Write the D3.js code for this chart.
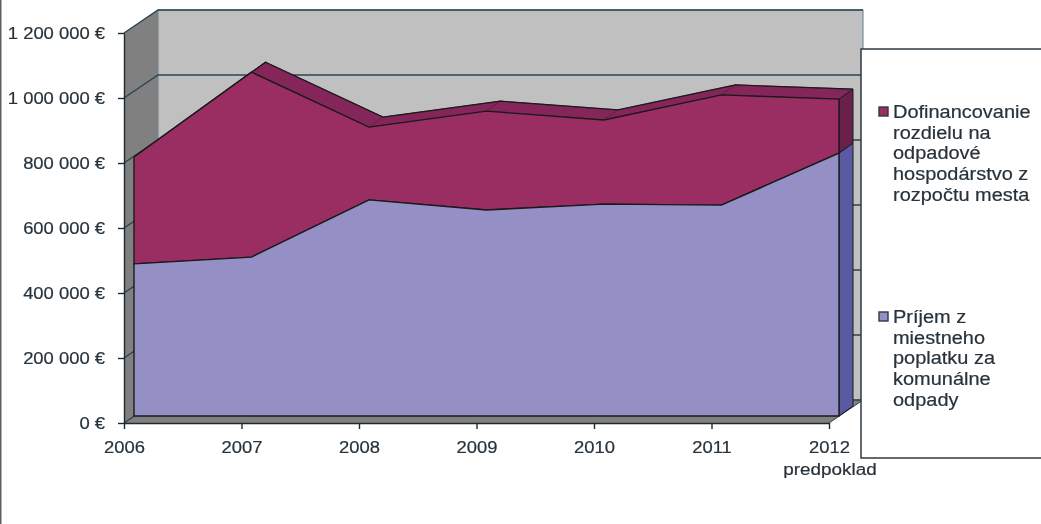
<!DOCTYPE html>
<html>
<head>
<meta charset="utf-8">
<script src="https://cdn.jsdelivr.net/npm/d3@7"></script>
<style>
    html, body { margin: 0; padding: 0; background: #fff; }
    svg { display: block; filter: blur(0.45px); }
    text { font-family: "Liberation Sans", Arial, sans-serif; fill: #27323a; stroke: #27323a; stroke-width: 0.2px; }
</style>
</head>
<body>
<div id="chart"></div>
<script>
const years = ['2006', '2007', '2008', '2009', '2010', '2011', '2012'];
const prijem = [468000, 489000, 665000, 634000, 652000, 649000, 809000];
const dofinancovanie = [329000, 569000, 224000, 304000, 259000, 339000, 166000];
const yTicks = [0, 200000, 400000, 600000, 800000, 1000000, 1200000];
const yLabels = ['0 €', '200 000 €', '400 000 €', '600 000 €', '800 000 €', '1 000 000 €', '1 200 000 €'];
const legendDofinancovanie = ['Dofinancovanie', 'rozdielu na', 'odpadové', 'hospodárstvo z', 'rozpočtu mesta'];
const legendPrijem = ['Príjem z', 'miestneho', 'poplatku za', 'komunálne', 'odpady'];

const width = 1041;
const height = 524;
const lineColor = '#2c4450';

const svg = d3.select('#chart')
    .append('svg')
    .attr('width', width)
    .attr('height', height);

const x = d3.scalePoint().domain(years).range([124, 829]);
const y = d3.scaleLinear().domain([0, 1200000]).range([423, 33]);

// 3D offsets: back wall, front and back of the area body
const wall = { x: 34, y: -23 };
const front = { x: 10, y: -7 };
const body = { x: 14, y: -10 };

const poly = pts => pts.map(p => p.join(',')).join(' ');
const x0 = x(years[0]);
const x1 = x(years[years.length - 1]);

// the source text is stretched sideways
function stretch(sel, k) {
    sel.each(function () {
        const w = this.getComputedTextLength();
        d3.select(this)
            .attr('textLength', w * k)
            .attr('lengthAdjust', 'spacingAndGlyphs');
    });
}

// left edge of the picture
svg.append('rect').attr('x', 0).attr('y', 0).attr('width', 1.5).attr('height', height).attr('fill', '#5f5f5f');

// back wall, side wall, floor
svg.append('rect')
    .attr('x', x0 + wall.x)
    .attr('y', y(1200000) + wall.y)
    .attr('width', x1 - x0)
    .attr('height', y(0) - y(1200000))
    .attr('fill', '#c0c0c0')
    .attr('stroke', '#5f7f8a')
    .attr('stroke-width', 1);

svg.append('polygon')
    .attr('points', poly([
        [x0, y(0)], [x0 + wall.x, y(0) + wall.y],
        [x0 + wall.x, y(1200000) + wall.y], [x0, y(1200000)]
    ]))
    .attr('fill', '#808080');

svg.append('polygon')
    .attr('points', poly([
        [x0, y(0)], [x0 + wall.x, y(0) + wall.y],
        [x1 + wall.x, y(0) + wall.y], [x1, y(0)]
    ]))
    .attr('fill', '#808080');

// gridlines on the walls
svg.append('g').selectAll('polyline')
    .data(yTicks)
    .join('polyline')
    .attr('points', d => poly([
        [x0, y(d)], [x0 + wall.x, y(d) + wall.y], [x1 + wall.x, y(d) + wall.y]
    ]))
    .attr('fill', 'none')
    .attr('stroke', lineColor)
    .attr('stroke-width', 1.4);

svg.append('line')
    .attr('x1', x1).attr('y1', y(0))
    .attr('x2', x1 + wall.x).attr('y2', y(0) + wall.y)
    .attr('stroke', lineColor);

// stacked tops in front-face coordinates
const fx = d => x(d) + front.x;
const fy = v => y(v) + front.y;
const bottom = years.map(d => [fx(d), fy(0)]);
const top1 = years.map((d, i) => [fx(d), fy(prijem[i])]);
const top2 = years.map((d, i) => [fx(d), fy(prijem[i] + dofinancovanie[i])]);
const shift = p => [p[0] + body.x, p[1] + body.y];
const last = years.length - 1;

// top surface of the area
svg.append('g').selectAll('polygon')
    .data(d3.pairs(top2))
    .join('polygon')
    .attr('points', d => poly([d[0], d[1], shift(d[1]), shift(d[0])]))
    .attr('fill', '#85265a')
    .attr('stroke', '#5f1c42')
    .attr('stroke-width', 0.8);

svg.append('polyline')
    .attr('points', poly(top2.map(shift)))
    .attr('fill', 'none')
    .attr('stroke', '#1a1a1a')
    .attr('stroke-width', 1.2);

// right side of the area body
svg.append('polygon')
    .attr('points', poly([bottom[last], shift(bottom[last]), shift(top1[last]), top1[last]]))
    .attr('fill', '#5a5aa2')
    .attr('stroke', '#1a1a1a');

svg.append('polygon')
    .attr('points', poly([top1[last], shift(top1[last]), shift(top2[last]), top2[last]]))
    .attr('fill', '#6b1f4b')
    .attr('stroke', '#1a1a1a');

// front faces
svg.append('polygon')
    .attr('points', poly(top1.concat(top2.slice().reverse())))
    .attr('fill', '#9a2e62')
    .attr('stroke', '#1a1a1a')
    .attr('stroke-width', 1.4);

svg.append('polygon')
    .attr('points', poly(bottom.concat(top1.slice().reverse())))
    .attr('fill', '#9490c6')
    .attr('stroke', '#1a1a1a')
    .attr('stroke-width', 1.4);

// axes
const yAxis = svg.append('g')
    .attr('transform', `translate(${x0},0)`)
    .call(d3.axisLeft(y).tickValues(yTicks).tickFormat((d, i) => yLabels[i]).tickSizeInner(6).tickSizeOuter(0).tickPadding(13));

const xAxis = svg.append('g')
    .attr('transform', `translate(0,${y(0)})`)
    .call(d3.axisBottom(x).tickSizeInner(6).tickSizeOuter(0).tickPadding(13));

[yAxis, xAxis].forEach(g => {
    g.selectAll('path, line').attr('stroke', '#1f2a30').attr('stroke-width', 1.4);
    g.selectAll('text')
        .attr('font-size', '16px')
        .attr('font-family', '"Liberation Sans", Arial, sans-serif')
        .attr('fill', '#27323a')
        .call(stretch, 1.15);
});

svg.append('text')
    .attr('x', x1 + 1)
    .attr('y', 475)
    .attr('text-anchor', 'middle')
    .attr('font-size', '16px')
    .text('predpoklad')
    .call(stretch, 1.18);

// legend box
svg.append('rect')
    .attr('x', 861)
    .attr('y', 49)
    .attr('width', 190)
    .attr('height', 409)
    .attr('fill', '#fff')
    .attr('stroke', '#2c3a42')
    .attr('stroke-width', 1.5);

function legendEntry(lines, color, markerY, baseline) {
    svg.append('rect')
        .attr('x', 879)
        .attr('y', markerY)
        .attr('width', 9)
        .attr('height', 9)
        .attr('fill', color)
        .attr('stroke', '#2c3a42')
        .attr('stroke-width', 1.4);

    svg.append('g').selectAll('text')
        .data(lines)
        .join('text')
        .attr('x', 893)
        .attr('y', (d, i) => baseline + i * 20.7)
        .attr('font-size', '17.5px')
        .text(d => d)
        .call(stretch, 1.14);
}

legendEntry(legendDofinancovanie, '#9a2e62', 107, 118);
legendEntry(legendPrijem, '#9490c6', 312, 323);
</script>
</body>
</html>
